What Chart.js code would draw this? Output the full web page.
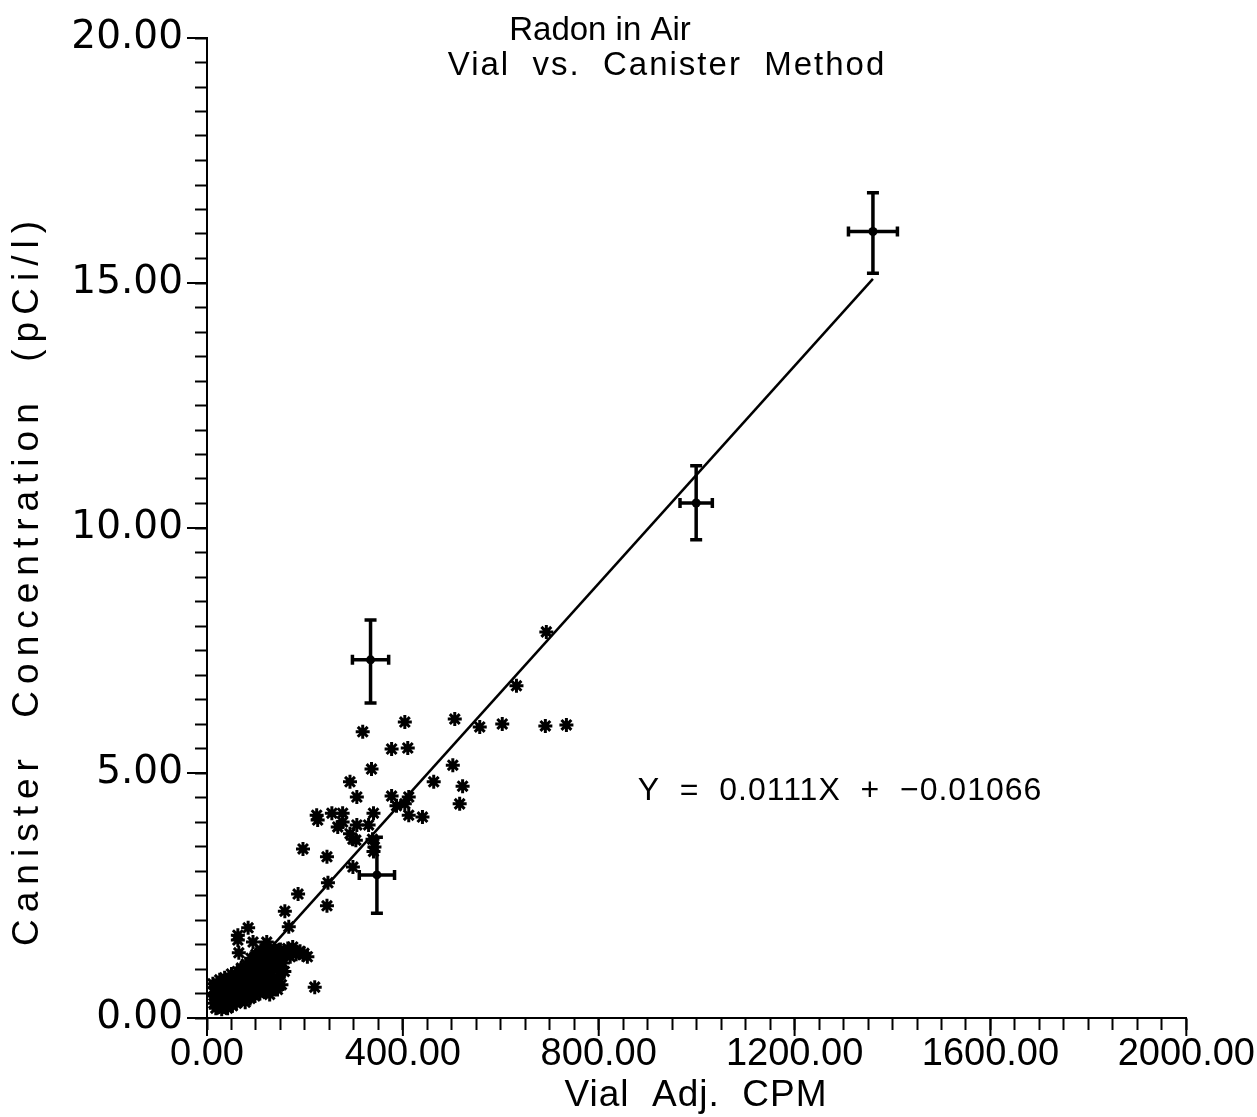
<!DOCTYPE html>
<html>
<head>
<meta charset="utf-8">
<title>Radon in Air</title>
<script src="https://cdn.jsdelivr.net/npm/chart.js@4"></script>
<style>
  html, body { margin: 0; padding: 0; background: #fff; }
  canvas { display: block; }
</style>
</head>
<body>
<canvas id="radonChart" width="1257" height="1117"></canvas>
<script>
// scattered samples (Vial Adj. CPM vs pCi/l)
const sampleX = [632, 693, 404, 318, 506, 557, 603, 691, 734, 377, 410, 336, 502, 292, 463, 522,
  306, 377, 516, 387, 404, 412, 412, 440, 224, 226, 255, 277, 277, 340, 267, 306, 330, 292, 298,
  304, 338, 342, 340, 196, 245, 298, 247, 186, 245, 159, 167, 84, 63, 63, 94, 122, 175, 196, 65, 220];
const sampleY = [6.78, 7.88, 6.04, 5.84, 6.10, 5.94, 6.00, 5.96, 5.98, 5.49, 5.51, 5.08, 5.16, 4.82, 4.82, 4.73,
  4.51, 4.53, 4.37, 4.33, 4.37, 4.51, 4.14, 4.10, 4.14, 4.04, 4.18, 4.18, 4.00, 4.18, 3.90, 3.94, 3.94, 3.76, 3.65,
  3.63, 3.65, 3.49, 3.40, 3.45, 3.29, 3.08, 2.76, 2.53, 2.29, 2.18, 1.86, 1.84, 1.69, 1.59, 1.55, 1.55, 1.45, 1.29, 1.33, 0.63];

// the dense cloud near the origin
const clusterX = [12, 14, 16, 18, 20, 22, 24, 26, 28, 30, 32, 34, 36, 38, 40, 42, 44, 46, 48, 50,
  52, 54, 56, 58, 60, 62, 64, 66, 68, 70, 72, 74, 76, 78, 80, 82, 84, 86, 88, 90,
  92, 94, 96, 98, 100, 102, 104, 106, 108, 110, 112, 114, 116, 118, 120, 122, 124, 126, 128, 130,
  132, 134, 136, 138, 140, 142, 144, 146, 148, 150, 152, 155, 158, 162, 165, 170, 176, 182, 190, 198, 205,
  15, 19, 23, 27, 31, 35, 39, 43, 47, 51, 55, 59, 63, 67, 71, 75, 79, 83, 87, 91,
  95, 99, 103, 107, 111, 115, 119, 123, 127, 131, 135, 139, 143, 147, 151, 131, 137, 145];
const clusterY = [0.70, 0.30, 0.50, 0.20, 0.62, 0.40, 0.25, 0.78, 0.52, 0.18, 0.35, 0.66, 0.82, 0.28, 0.48, 0.20, 0.72, 0.58, 0.38, 0.90,
  0.25, 0.62, 0.46, 0.80, 0.30, 0.95, 0.55, 0.70, 0.36, 1.02, 0.85, 0.48, 0.64, 0.32, 1.10, 0.92, 0.55, 0.75, 0.40, 1.22,
  1.00, 0.62, 0.82, 0.45, 1.30, 1.08, 0.70, 0.92, 0.50, 1.38, 1.15, 0.78, 0.98, 0.55, 1.45, 1.22, 0.85, 1.05, 0.48, 1.35,
  0.95, 0.62, 1.18, 1.42, 0.75, 1.05, 0.58, 1.28, 0.88, 1.40, 0.68, 1.12, 0.95, 1.30, 1.42, 1.25, 1.38, 1.30, 1.36, 1.32, 1.25,
  0.45, 0.32, 0.55, 0.38, 0.60, 0.25, 0.70, 0.42, 0.65, 0.35, 0.78, 0.52, 0.40, 0.88, 0.58, 0.42, 0.75, 0.68, 1.05, 0.78,
  0.52, 1.12, 0.88, 0.62, 1.02, 1.28, 0.68, 1.00, 1.30, 0.78, 1.02, 1.20, 0.82, 1.10, 1.22, 0.55, 0.66, 0.70];

// reference points with error bars
const refX = [1360, 999, 334, 347];
const refXErr = [50, 33, 37, 36];
const refY = [16.05, 10.51, 7.31, 2.92];
const refYLow = [15.20, 9.76, 6.43, 2.14];
const refYHigh = [16.84, 11.27, 8.12, 3.69];

// fitted line Y = 0.0111X + -0.01066
const fitSlope = 0.0111;
const fitIntercept = -0.01066;
const fitXRange = [15, 1360];

const xMajor = 400;
const yMajor = 5;

const toPoints = (xs, ys) => xs.map((x, i) => ({ x: x, y: ys[i] }));

const fitLine = fitXRange.map(x => ({ x: x, y: fitSlope * x + fitIntercept }));

const FONT = '"Liberation Sans", Arial, sans-serif';
const WIDE_FONT = '"DejaVu Sans", Verdana, sans-serif';

// error bars + longer major ticks + texts
const decorPlugin = {
  id: 'decor',
  afterDatasetsDraw(chart) {
    const ctx = chart.ctx;
    const xs = chart.scales.x;
    const ys = chart.scales.y;
    ctx.save();
    ctx.strokeStyle = '#000';
    ctx.lineWidth = 3.5;
    refX.forEach((x, i) => {
      const px = xs.getPixelForValue(x);
      const py = ys.getPixelForValue(refY[i]);
      const left = xs.getPixelForValue(x - refXErr[i]);
      const right = xs.getPixelForValue(x + refXErr[i]);
      const top = ys.getPixelForValue(refYHigh[i]);
      const bottom = ys.getPixelForValue(refYLow[i]);
      ctx.beginPath();
      ctx.moveTo(left, py); ctx.lineTo(right, py);
      ctx.moveTo(left, py - 5); ctx.lineTo(left, py + 5);
      ctx.moveTo(right, py - 5); ctx.lineTo(right, py + 5);
      ctx.moveTo(px, top); ctx.lineTo(px, bottom);
      ctx.moveTo(px - 6, top); ctx.lineTo(px + 6, top);
      ctx.moveTo(px - 6, bottom); ctx.lineTo(px + 6, bottom);
      ctx.stroke();
      ctx.beginPath();
      ctx.arc(px, py, 4.5, 0, Math.PI * 2);
      ctx.fillStyle = '#000';
      ctx.fill();
    });
    ctx.restore();
  },
  afterDraw(chart) {
    const ctx = chart.ctx;
    const xs = chart.scales.x;
    const ys = chart.scales.y;
    const area = chart.chartArea;
    ctx.save();
    ctx.strokeStyle = '#000';
    ctx.lineWidth = 2;
    ctx.beginPath();
    for (let v = 0; v <= 2000; v += xMajor) {
      const px = xs.getPixelForValue(v);
      ctx.moveTo(px, area.bottom); ctx.lineTo(px, area.bottom + 18);
    }
    for (let v = 0; v <= 20; v += yMajor) {
      const py = ys.getPixelForValue(v);
      ctx.moveTo(area.left, py); ctx.lineTo(area.left - 20, py);
    }
    ctx.stroke();

    ctx.fillStyle = '#000';
    ctx.textAlign = 'center';
    ctx.textBaseline = 'middle';
    ctx.font = '33px ' + FONT;
    ctx.letterSpacing = '0px';
    ctx.fillText('Radon in Air', 600, 31);
    ctx.letterSpacing = '2px';
    ctx.fillText('Vial  vs.  Canister  Method', 667, 66);

    ctx.font = '32px ' + FONT;
    ctx.letterSpacing = '1px';
    ctx.fillText('Y  =  0.0111X  +  \u22120.01066', 840, 791);

    ctx.font = '37px ' + FONT;
    ctx.letterSpacing = '1px';
    ctx.fillText('Vial  Adj.  CPM', 696, 1096);

    ctx.translate(28, 580);
    ctx.rotate(-Math.PI / 2);
    ctx.font = '37px ' + FONT;
    ctx.letterSpacing = '7px';
    ctx.fillText('Canister  Concentration  (pCi/l)', 0, 0);
    ctx.restore();
  }
};

const ctx = document.getElementById('radonChart').getContext('2d');
const radonChart = new Chart(ctx, {
  type: 'scatter',
  data: {
    datasets: [
      {
        type: 'line',
        label: 'Fit',
        data: fitLine,
        borderColor: '#000',
        borderWidth: 2.5,
        pointRadius: 0,
        fill: false
      },
      {
        label: 'Samples',
        data: toPoints(sampleX, sampleY).concat(toPoints(clusterX, clusterY)),
        pointStyle: 'star',
        pointRadius: 7,
        borderColor: '#000',
        backgroundColor: '#000',
        borderWidth: 3
      }
    ]
  },
  options: {
    responsive: false,
    animation: false,
    devicePixelRatio: 1,
    layout: { padding: { top: 38, right: 69, left: 0, bottom: 0 } },
    plugins: {
      legend: { display: false },
      tooltip: { enabled: false },
      title: { display: false }
    },
    scales: {
      x: {
        type: 'linear',
        min: 0,
        max: 2000,
        afterFit: scale => { scale.height = 99; },
        ticks: {
          stepSize: 50,
          autoSkip: false,
          maxRotation: 0,
          padding: 2,
          color: '#000',
          font: { family: FONT, size: 38 },
          callback: v => (v % xMajor === 0 ? v.toFixed(2) : '')
        },
        grid: { drawOnChartArea: false, tickLength: 12, tickColor: '#000', tickWidth: 2 },
        border: { color: '#000', width: 2 }
      },
      y: {
        min: 0,
        max: 20,
        afterFit: scale => { scale.width = 207; },
        ticks: {
          stepSize: 0.5,
          autoSkip: false,
          padding: 12,
          color: '#000',
          font: { family: WIDE_FONT, size: 39 },
          callback: v => (v % yMajor === 0 ? v.toFixed(2) : '')
        },
        grid: { drawOnChartArea: false, tickLength: 12, tickColor: '#000', tickWidth: 2 },
        border: { color: '#000', width: 2 }
      }
    }
  },
  plugins: [decorPlugin]
});
</script>
</body>
</html>
